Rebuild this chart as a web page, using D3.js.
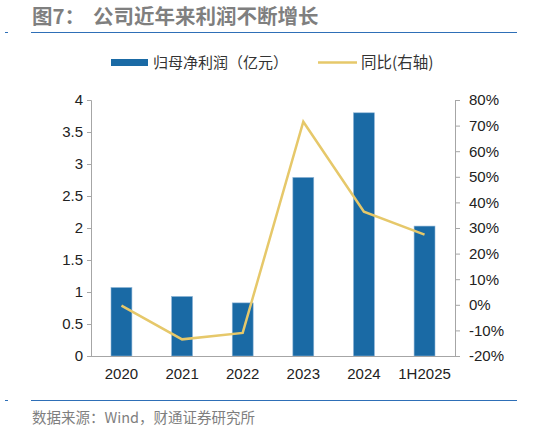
<!DOCTYPE html>
<html>
<head>
<meta charset="utf-8">
<script src="https://cdn.jsdelivr.net/npm/d3@7"></script>
<style>
  body { margin: 0; background: #fff; }
  text { font-family: "Liberation Sans", Arial, "Noto Sans CJK SC", sans-serif; }
  .cjk { font-family: "Noto Sans CJK SC", sans-serif; }
</style>
</head>
<body>
<div id="chart"></div>
<script>
var years = ["2020", "2021", "2022", "2023", "2024", "1H2025"];
var profit = [1.07, 0.93, 0.83, 2.79, 3.80, 2.03];
var growth = [-0.3, -13.5, -11.0, 71.5, 36.4, 27.4];
var leftTicks = [0, 0.5, 1, 1.5, 2, 2.5, 3, 3.5, 4];
var rightTicks = [-20, -10, 0, 10, 20, 30, 40, 50, 60, 70, 80];

var W = 536, H = 430;
var margin = {top: 100, right: 81, bottom: 74, left: 91};
var width = W - margin.left - margin.right,
    height = H - margin.top - margin.bottom;

var svg = d3.select("#chart").append("svg")
    .attr("width", W).attr("height", H);

// title
var title = svg.append("text").attr("class", "cjk")
    .attr("y", 24)
    .style("font-size", "20.5px").style("font-weight", "bold")
    .attr("fill", "#7f7f7f");
title.append("tspan").attr("x", 32).text("图7：");
title.append("tspan").attr("x", 93).text("公司近年来利润不断增长");
svg.append("line").attr("x1", 31).attr("x2", 517).attr("y1", 32.5).attr("y2", 32.5)
    .attr("stroke", "#2e6fb7").attr("stroke-width", 1);
svg.append("line").attr("x1", 5).attr("x2", 8).attr("y1", 32.5).attr("y2", 32.5)
    .attr("stroke", "#2e6fb7").attr("stroke-width", 1);

// legend
svg.append("rect").attr("x", 111).attr("y", 59).attr("width", 37).attr("height", 7)
    .attr("fill", "#1a6aa5");
svg.append("text").attr("class", "cjk").attr("x", 153).attr("y", 68)
    .style("font-size", "15px").attr("fill", "#333").text("归母净利润（亿元）");
svg.append("line").attr("x1", 318).attr("x2", 357).attr("y1", 62.5).attr("y2", 62.5)
    .attr("stroke", "#e6c86a").attr("stroke-width", 2.5);
svg.append("text").attr("class", "cjk").attr("x", 361).attr("y", 68)
    .style("font-size", "15.5px").attr("fill", "#333").text("同比(右轴)");

var g = svg.append("g")
    .attr("transform", "translate(" + margin.left + "," + margin.top + ")");

var xScale = d3.scaleBand().domain(years).range([0, width]).paddingInner(0.655).paddingOuter(0.33);
var yLeft = d3.scaleLinear().domain([0, 4]).range([height, 0]);
var yRight = d3.scaleLinear().domain([-20, 80]).range([height, 0]);

// bars
g.selectAll(".bar").data(profit).enter().append("rect")
    .attr("x", function(d, i) { return xScale(years[i]); })
    .attr("y", function(d) { return yLeft(d); })
    .attr("width", xScale.bandwidth())
    .attr("height", function(d) { return height - yLeft(d); })
    .attr("fill", "#1a6aa5")
    .attr("stroke", "#8db4d6").attr("stroke-width", 0.6);

// axes
var leftAxis = g.append("g").call(d3.axisLeft(yLeft).tickValues(leftTicks).tickSize(4).tickPadding(4)
    .tickFormat(function(d) { return d; }));
var rightAxis = g.append("g").attr("transform", "translate(" + width + ",0)")
    .call(d3.axisRight(yRight).tickValues(rightTicks).tickSize(5).tickPadding(9)
    .tickFormat(function(d) { return d + "%"; }));
var xAxis = g.append("g").attr("transform", "translate(0," + height + ")")
    .call(d3.axisBottom(xScale).tickSize(0).tickPadding(12));

[leftAxis, rightAxis, xAxis].forEach(function(a) {
    a.select(".domain").attr("stroke", "#a6a6a6");
    a.selectAll(".tick line").attr("stroke", "#a6a6a6");
    a.selectAll(".tick text").style("font-size", "15px").attr("fill", "#222")
        .style("font-family", "'Liberation Sans', Arial, sans-serif");
});
xAxis.select(".domain").attr("d", "M0,0.5H" + width);

// growth line
var line = d3.line()
    .x(function(d, i) { return xScale(years[i]) + xScale.bandwidth() / 2; })
    .y(function(d) { return yRight(d); });
g.append("path").datum(growth)
    .attr("d", line)
    .attr("fill", "none")
    .attr("stroke", "#e6c86a")
    .attr("stroke-width", 2.5);

// footer
svg.append("line").attr("x1", 31).attr("x2", 517).attr("y1", 400.5).attr("y2", 400.5)
    .attr("stroke", "#2e6fb7").attr("stroke-width", 1);
svg.append("line").attr("x1", 5).attr("x2", 8).attr("y1", 400.5).attr("y2", 400.5)
    .attr("stroke", "#2e6fb7").attr("stroke-width", 1);
svg.append("text").attr("class", "cjk").attr("x", 32).attr("y", 423)
    .style("font-size", "14.5px").attr("fill", "#7f7f7f")
    .text("数据来源：Wind，财通证券研究所");
</script>
</body>
</html>
